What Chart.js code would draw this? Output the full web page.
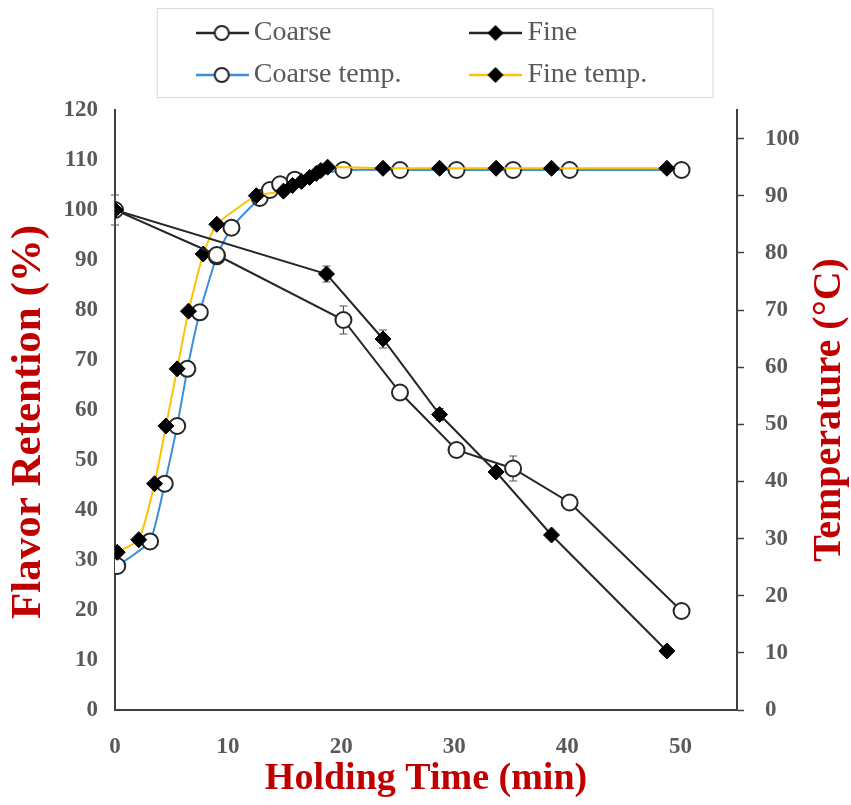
<!DOCTYPE html>
<html><head><meta charset="utf-8">
<script src="https://cdn.jsdelivr.net/npm/chart.js@4.4.1/dist/chart.umd.min.js"></script>
<style>html,body{margin:0;padding:0;background:#fff;}</style>
</head><body>
<canvas id="c" width="851" height="805"></canvas>
<script>
// ---------- data ----------
const seriesNames = ['Coarse', 'Fine', 'Coarse temp.', 'Fine temp.'];
const xTitle = 'Holding Time (min)';
const yTitle = 'Flavor Retention (%)';
const y2Title = 'Temperature (°C)';

const coarseTime = [0, 9.0, 20.2, 25.2, 30.2, 35.2, 40.2, 50.1];
const coarseRet  = [100, 91, 78, 63.5, 52, 48.3, 41.5, 19.8];
const coarseErr  = [3, 0, 2.8, 0.8, 0, 2.5, 0, 0];

const fineTime = [0, 18.7, 23.7, 28.7, 33.7, 38.6, 48.8];
const fineRet  = [100, 87.2, 74.2, 59.1, 47.6, 35, 11.8];
const fineErr  = [0, 1.6, 1.8, 1.2, 0.8, 0, 0];

const coarseTempTime = [0.2, 3.1, 4.4, 5.5, 6.4, 7.5, 9.0, 10.3, 12.8, 13.7, 14.6, 15.9, 20.2, 25.2, 30.2, 35.2, 40.2, 50.1];
const coarseTemp     = [25.2, 29.5, 39.6, 49.7, 59.7, 69.6, 79.4, 84.4, 89.6, 91.0, 92.0, 92.8, 94.5, 94.5, 94.5, 94.5, 94.5, 94.5];

const fineTempTime = [0.2, 2.1, 3.5, 4.5, 5.5, 6.5, 7.8, 9.0, 12.5, 14.9, 15.7, 16.5, 17.2, 17.8, 18.2, 18.8, 23.7, 28.7, 33.7, 38.6, 48.8];
const fineTemp     = [27.6, 29.8, 39.6, 49.7, 59.7, 69.8, 79.8, 85.0, 90.0, 90.8, 91.8, 92.5, 93.2, 93.9, 94.4, 95.0, 94.8, 94.8, 94.8, 94.8, 94.8];

// ---------- style ----------
const BLACK = '#262626', BLUE = '#3A8FDA', YELLOW = '#FFC000', RED = '#C00000', GRAY = '#595959', AXIS = '#404040';
const SERIF = "'Liberation Serif', 'Times New Roman', serif";

const toXY = (xs, ys) => xs.map((x, i) => ({x: x, y: ys[i]}));

// legend icons (line + marker)
function makeIcon(lineColor, marker) {
  const c = document.createElement('canvas');
  c.width = 53; c.height = 24;
  const g = c.getContext('2d');
  g.strokeStyle = lineColor; g.lineWidth = 2.5;
  g.beginPath(); g.moveTo(0, 12); g.lineTo(53, 12); g.stroke();
  if (marker === 'circle') {
    g.beginPath(); g.arc(26, 12, 7, 0, Math.PI * 2);
    g.fillStyle = '#fff'; g.fill(); g.lineWidth = 2; g.strokeStyle = BLACK; g.stroke();
  } else {
    g.beginPath(); g.moveTo(26, 4); g.lineTo(34, 12); g.lineTo(26, 20); g.lineTo(18, 12); g.closePath();
    g.fillStyle = '#000'; g.fill();
  }
  return c;
}
const legendIcons = [makeIcon(BLACK, 'circle'), makeIcon(BLACK, 'diamond'), makeIcon(BLUE, 'circle'), makeIcon(YELLOW, 'diamond')];

// pad legend texts so the two columns line up
const mctx = document.createElement('canvas').getContext('2d');
mctx.font = "28px " + SERIF;
function padTo(t, w) {
  let s = t;
  while (mctx.measureText(s + ' ').width <= w) s += ' ';
  while (mctx.measureText(s + '\u2009').width <= w) s += '\u2009';
  return s;
}
const colTextWidths = [214, 124, 214, 124];
const legendTexts = seriesNames.map((n, i) => padTo(n, colTextWidths[i]));

// ---------- plugins ----------
const legendSpacer = {
  id: 'legendSpacer',
  beforeUpdate(chart) {
    const lg = chart.legend;
    if (lg && !lg.__patched) {
      const orig = lg.fit;
      lg.fit = function () { orig.call(this); this.height += 11; };
      lg.__patched = true;
    }
  },
  afterDraw(chart) {
    const lg = chart.legend; if (!lg || !lg.legendHitBoxes.length) return;
    const hb = lg.legendHitBoxes;
    const ctx = chart.ctx;
    const l = hb[0].left - 48, t = hb[0].top - 11, r = hb[1].left + 234, b = hb[2].top + 36;
    ctx.save(); ctx.strokeStyle = '#d9d9d9'; ctx.lineWidth = 1;
    ctx.strokeRect(l + 0.5, t + 0.5, r - l, b - t); ctx.restore();
  }
};

const errorBars = {
  id: 'errorBars',
  beforeDatasetsDraw(chart) {
    const ctx = chart.ctx, xs = chart.scales.x, ys = chart.scales.y;
    const sets = [[coarseTime, coarseRet, coarseErr], [fineTime, fineRet, fineErr]];
    ctx.save(); ctx.strokeStyle = '#555'; ctx.lineWidth = 1.2;
    sets.forEach(([tx, vy, er]) => {
      tx.forEach((t, i) => {
        if (!er[i]) return;
        const px = xs.getPixelForValue(t);
        const y1 = ys.getPixelForValue(vy[i] + er[i]), y2 = ys.getPixelForValue(vy[i] - er[i]);
        ctx.beginPath();
        ctx.moveTo(px, y1); ctx.lineTo(px, y2);
        ctx.moveTo(px - 4, y1); ctx.lineTo(px + 4, y1);
        ctx.moveTo(px - 4, y2); ctx.lineTo(px + 4, y2);
        ctx.stroke();
      });
    });
    ctx.restore();
  }
};

// vertical axis titles, both reading bottom-to-top
const axisTitles = {
  id: 'axisTitles',
  afterDraw(chart) {
    const ctx = chart.ctx, ya = chart.scales.y, y2 = chart.scales.y2;
    const draw = (text, x, y, size) => {
      ctx.save();
      ctx.translate(x, y);
      ctx.rotate(-Math.PI / 2);
      ctx.font = "bold " + size + "px " + SERIF;
      ctx.fillStyle = RED; ctx.textAlign = 'center'; ctx.textBaseline = 'middle';
      ctx.fillText(text, 0, 0);
      ctx.restore();
    };
    draw(yTitle, ya.left + 29, (ya.top + ya.bottom) / 2 + 12, 43);
    draw(y2Title, y2.right - 21, (y2.top + y2.bottom) / 2, 40);
  }
};

// ---------- chart ----------
const tickFont = {family: SERIF, size: 23, weight: 'bold'};

new Chart(document.getElementById('c'), {
  type: 'line',
  data: {
    datasets: [
      {label: seriesNames[0], data: toXY(coarseTime, coarseRet), yAxisID: 'y', order: 1,
       borderColor: BLACK, borderWidth: 2, pointStyle: 'circle', pointRadius: 8,
       pointBackgroundColor: '#fff', pointBorderColor: BLACK, pointBorderWidth: 2, tension: 0},
      {label: seriesNames[1], data: toXY(fineTime, fineRet), yAxisID: 'y', order: 0,
       borderColor: BLACK, borderWidth: 2, pointStyle: 'rectRot', pointRadius: 8,
       pointBackgroundColor: '#000', pointBorderColor: '#000', pointBorderWidth: 1, tension: 0},
      {label: seriesNames[2], data: toXY(coarseTempTime, coarseTemp), yAxisID: 'y2', order: 3,
       borderColor: BLUE, borderWidth: 2, pointStyle: 'circle', pointRadius: 8,
       pointBackgroundColor: '#fff', pointBorderColor: BLACK, pointBorderWidth: 2, tension: 0.15},
      {label: seriesNames[3], data: toXY(fineTempTime, fineTemp), yAxisID: 'y2', order: 2,
       borderColor: YELLOW, borderWidth: 2, pointStyle: 'rectRot', pointRadius: 8,
       pointBackgroundColor: '#000', pointBorderColor: '#000', pointBorderWidth: 1, tension: 0.15}
    ]
  },
  options: {
    responsive: false, animation: false, devicePixelRatio: 1,
    layout: {padding: {top: 5, left: 0, right: 0, bottom: 0}},
    plugins: {
      tooltip: {enabled: false},
      legend: {
        position: 'top', fullSize: false, align: 'center',
        labels: {
          usePointStyle: true, pointStyleWidth: 35, boxHeight: 28, padding: 14,
          font: {family: SERIF, size: 28}, color: GRAY,
          generateLabels: (chart) => chart.data.datasets.map((ds, i) => ({
            text: legendTexts[i], pointStyle: legendIcons[i], datasetIndex: i, hidden: false,
            lineWidth: 0, strokeStyle: 'rgba(0,0,0,0)', fillStyle: 'rgba(0,0,0,0)', fontColor: GRAY
          }))
        }
      }
    },
    scales: {
      x: {
        type: 'linear', min: 0, max: 55,
        afterFit: (s) => { s.height = 95; },
        grid: {display: false, drawTicks: false},
        border: {display: true, color: AXIS, width: 2},
        ticks: {stepSize: 10, includeBounds: false, padding: 23, color: GRAY, font: tickFont, maxRotation: 0},
        title: {display: true, text: xTitle, color: RED, font: {family: SERIF, size: 38, weight: 'bold'}, padding: {top: 0, bottom: 3}}
      },
      y: {
        type: 'linear', position: 'left', min: 0, max: 120,
        afterFit: (s) => { s.width = 115; },
        grid: {display: false, drawTicks: false},
        border: {display: true, color: AXIS, width: 2},
        ticks: {stepSize: 10, padding: 17, color: GRAY, font: tickFont},
        title: {display: false}
      },
      y2: {
        type: 'linear', position: 'right', min: 0, max: 105,
        afterFit: (s) => { s.width = 114; },
        grid: {display: true, drawOnChartArea: false, drawTicks: true, tickLength: 7, tickColor: AXIS, tickWidth: 1.5},
        border: {display: true, color: AXIS, width: 2},
        ticks: {stepSize: 10, includeBounds: false, padding: 21, color: GRAY, font: tickFont},
        title: {display: false}
      }
    }
  },
  plugins: [legendSpacer, errorBars, axisTitles]
});
</script>
</body></html>
